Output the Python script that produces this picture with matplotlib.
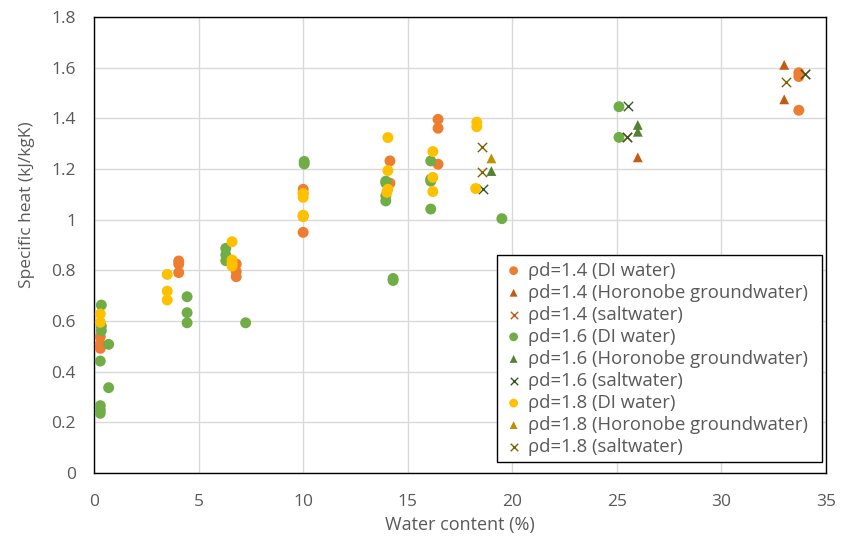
import matplotlib
matplotlib.use("Agg")
import matplotlib.pyplot as plt

plt.rcParams['font.family'] = ['Open Sans', 'DejaVu Sans']

# ---- data ----
x14_di = [0.3, 0.3, 0.3, 4.05, 4.05, 4.05, 6.8, 6.8, 6.8, 10.0, 10.0, 10.0, 10.0, 14.15, 14.15, 16.45, 16.45, 16.45, 33.7, 33.7, 33.7]
y14_di = [0.538, 0.508, 0.492, 0.837, 0.825, 0.791, 0.825, 0.795, 0.775, 1.12, 1.104, 1.015, 0.950, 1.232, 1.144, 1.396, 1.361, 1.219, 1.580, 1.565, 1.432]

x14_hg = [26.0, 33.0, 33.0]
y14_hg = [1.246, 1.611, 1.475]

x14_sw = [25.5, 34.0]
y14_sw = [1.325, 1.577]

x16_di = [0.35, 0.35, 0.35, 0.3, 0.7, 0.7, 0.3, 0.3, 0.3, 4.45, 4.45, 4.45, 6.3, 6.3, 6.3, 7.25,
          10.05, 10.05, 13.95, 13.95, 13.95, 13.95, 14.3, 14.3, 16.1, 16.1, 16.1, 16.1, 19.5, 25.1, 25.1]
y16_di = [0.663, 0.580, 0.562, 0.442, 0.508, 0.337, 0.266, 0.249, 0.236, 0.696, 0.633, 0.593, 0.887, 0.861, 0.838, 0.593,
          1.230, 1.220, 1.152, 1.145, 1.094, 1.074, 0.768, 0.760, 1.232, 1.160, 1.152, 1.042, 1.004, 1.446, 1.325]

x16_hg = [19.0, 26.0, 26.0]
y16_hg = [1.192, 1.374, 1.347]

x16_sw = [18.6, 25.55, 25.5, 34.0]
y16_sw = [1.120, 1.449, 1.325, 1.575]

x18_di = [0.3, 0.3, 3.5, 3.5, 3.5, 6.6, 6.6, 6.6, 6.6, 10.0, 10.0, 10.0, 10.0, 14.05, 14.05, 14.05, 14.0, 16.2, 16.2, 16.2, 18.3, 18.3, 18.25]
y18_di = [0.628, 0.595, 0.784, 0.718, 0.683, 0.913, 0.841, 0.828, 0.817, 1.104, 1.088, 1.018, 1.012, 1.324, 1.194, 1.120, 1.108, 1.269, 1.167, 1.111, 1.385, 1.367, 1.123]

x18_hg = [19.0]
y18_hg = [1.242]

x18_sw = [18.55, 18.55, 33.1]
y18_sw = [1.288, 1.187, 1.545]

labels = ["ρd=1.4 (DI water)", "ρd=1.4 (Horonobe groundwater)", "ρd=1.4 (saltwater)",
          "ρd=1.6 (DI water)", "ρd=1.6 (Horonobe groundwater)", "ρd=1.6 (saltwater)",
          "ρd=1.8 (DI water)", "ρd=1.8 (Horonobe groundwater)", "ρd=1.8 (saltwater)"]

fig = plt.figure(figsize=(8.5, 5.4), dpi=100)
ax = fig.add_axes([0.1106, 0.124, 0.8612, 0.8445])

series = [
    (x14_di, y14_di, 'o', '#ED7D31', 62),
    (x14_hg, y14_hg, '^', '#C55A11', 50),
    (x14_sw, y14_sw, 'x', '#C55A11', 45),
    (x16_di, y16_di, 'o', '#70AD47', 62),
    (x16_hg, y16_hg, '^', '#548235', 50),
    (x16_sw, y16_sw, 'x', '#375623', 45),
    (x18_di, y18_di, 'o', '#FFC000', 62),
    (x18_hg, y18_hg, '^', '#BF9000', 50),
    (x18_sw, y18_sw, 'x', '#7F6000', 45),
]
for (xs, ys, m, c, s), lab in zip(series, labels):
    if m == 'x':
        ax.scatter(xs, ys, marker=m, s=s, color=c, linewidths=1.0, label=lab, zorder=3)
    else:
        ax.scatter(xs, ys, marker=m, s=s, color=c, edgecolors='none', label=lab, zorder=3)

ax.set_xlim(0, 35)
ax.set_ylim(0, 1.8)
ax.set_xticks(range(0, 36, 5))
ax.set_yticks([0, 0.2, 0.4, 0.6, 0.8, 1.0, 1.2, 1.4, 1.6, 1.8])
ax.set_yticklabels(['0', '0.2', '0.4', '0.6', '0.8', '1', '1.2', '1.4', '1.6', '1.8'])
ax.grid(True, color='#D9D9D9', linewidth=1.0, zorder=0)
ax.set_axisbelow(True)
for sp in ax.spines.values():
    sp.set_color('#000000')
    sp.set_linewidth(1.0)
ax.tick_params(length=0, labelsize=12.5, labelcolor='#595959')
ax.tick_params(axis='x', pad=15)
ax.tick_params(axis='y', pad=13)
ax.set_xlabel('Water content (%)', fontsize=13, color='#595959')
ax.set_ylabel('Specific heat (kJ/kgK)', fontsize=12.5, color='#595959')
ax.xaxis.set_label_coords(0.5, -0.094)
ax.yaxis.set_label_coords(-0.080, 0.588)

leg = ax.legend(loc='upper left', bbox_to_anchor=(0.5505, 0.015, 0.444, 0.463), mode='expand',
                borderaxespad=0,
                fontsize=13.3, frameon=True, fancybox=False, edgecolor='#000000', framealpha=1,
                handletextpad=0.25, labelspacing=0.22, borderpad=0.35, handlelength=1.1,
                scatterpoints=1, markerscale=0.8)
leg.get_frame().set_linewidth(1.0)
for t in leg.get_texts():
    t.set_color('#595959')

fig.savefig('out.png', dpi=100)
